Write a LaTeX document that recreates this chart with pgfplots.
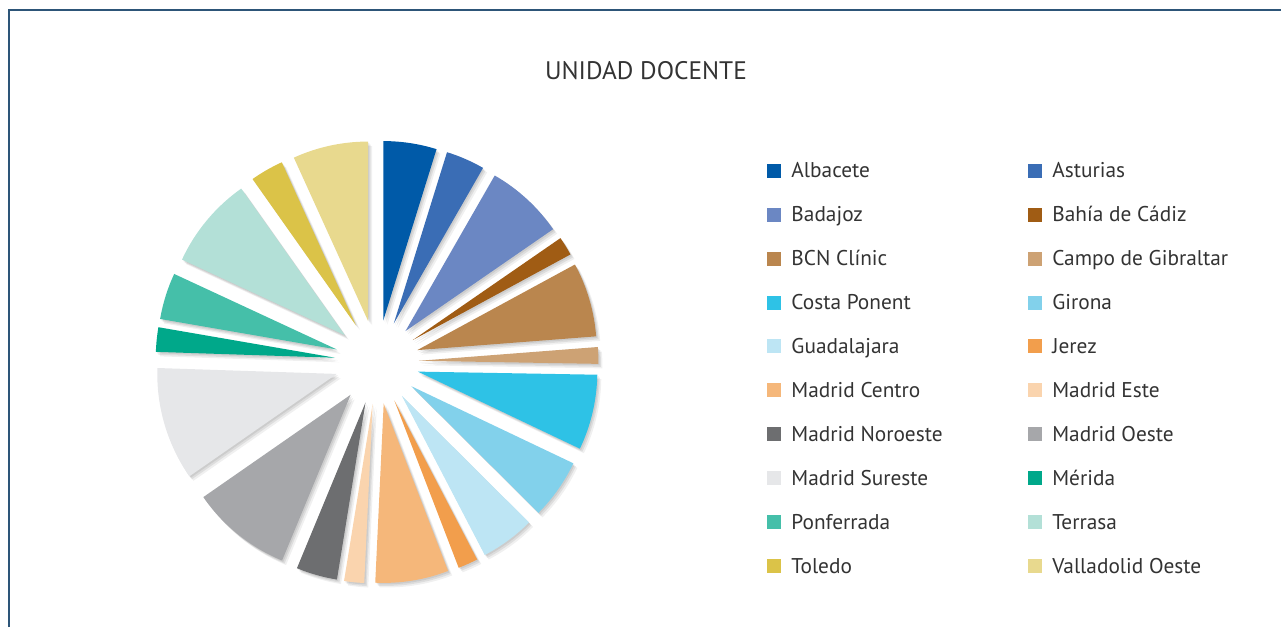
\documentclass[border=0pt]{standalone}
\usepackage{pgfplots}
\pgfplotsset{compat=1.18}
\usepackage{pgfplotstable}
\usepackage{fontspec}
\setmainfont{PT Sans}

\definecolor{frame}{HTML}{2D5578}
\definecolor{txt}{HTML}{333333}
\definecolor{c1}{HTML}{005AA8}
\definecolor{c2}{HTML}{3A6DB5}
\definecolor{c3}{HTML}{6B87C3}
\definecolor{c4}{HTML}{A05C14}
\definecolor{c5}{HTML}{BA864E}
\definecolor{c6}{HTML}{CDA274}
\definecolor{c7}{HTML}{2EC2E6}
\definecolor{c8}{HTML}{82D1EB}
\definecolor{c9}{HTML}{BDE5F4}
\definecolor{c10}{HTML}{F29E4C}
\definecolor{c11}{HTML}{F5B77A}
\definecolor{c12}{HTML}{FAD4AE}
\definecolor{c13}{HTML}{6D6E70}
\definecolor{c14}{HTML}{A6A7AA}
\definecolor{c15}{HTML}{E6E7E9}
\definecolor{c16}{HTML}{00A88A}
\definecolor{c17}{HTML}{45BFA9}
\definecolor{c18}{HTML}{B3E0D7}
\definecolor{c19}{HTML}{DBC348}
\definecolor{c20}{HTML}{E8D98E}

% share of each unidad docente (%)
\pgfplotstableread[col sep=comma]{
name,value,color
Albacete,4.8,c1
Asturias,3.5,c2
Badajoz,7.1,c3
Bahía de Cádiz,1.7,c4
BCN Clínic,6.7,c5
Campo de Gibraltar,1.5,c6
Costa Ponent,6.8,c7
Girona,5.4,c8
Guadalajara,4.9,c9
Jerez,1.8,c10
Madrid Centro,6.6,c11
Madrid Este,1.8,c12
Madrid Noroeste,3.7,c13
Madrid Oeste,9.1,c14
Madrid Sureste,10.2,c15
Mérida,2.2,c16
Ponferrada,4.2,c17
Terrasa,8.3,c18
Toledo,3.0,c19
Valladolid Oeste,6.8,c20
}\unidades

\def\px{0.3985pt}
\pgfplotsset{sq/.style={legend image code/.code={\fill[##1,draw=none] (0pt,-2.79pt) rectangle (5.58pt,2.79pt);}}}

\begin{document}
\begin{tikzpicture}[x=\px,y=-\px]
\useasboundingbox (0,0) rectangle (1281,627);
\draw[frame,line width=0.8pt] (9,627) -- (9,9.5) -- (1281,9.5);
\node[font=\fontsize{10.1}{12}\selectfont,text=txt] at (646,71) {UNIDAD DOCENTE};

\pgfplotstablegetrowsof{\unidades}
\pgfmathtruncatemacro\lastrow{\pgfplotsretval-1}
\def\total{0}
\pgfplotsforeachungrouped \i in {0,...,\lastrow}{%
  \pgfplotstablegetelem{\i}{value}\of\unidades
  \pgfmathsetmacro\total{\total+\pgfplotsretval}}

\begin{axis}[
  at={(150.23pt,-144.26pt)}, anchor=center,
  x=\px, y=\px,
  xmin=-230, xmax=230, ymin=-230, ymax=230,
  hide axis, clip=false,
  legend columns=2,
  legend cell align=left,
  legend style={at={(1.3478,0.9652)}, anchor=north west, draw=none, fill=none,
    inner sep=0pt, row sep=0pt, column sep=0pt,
    font=\fontsize{8.5}{10}\selectfont, text=txt,
    nodes={inner sep=0pt, minimum height=17.53pt, text height=5.9pt, text depth=0pt},
    /tikz/every odd column/.style={column sep=3.98pt}},
]
\def\angA{90}
\pgfplotsforeachungrouped \i in {0,...,\lastrow}{%
  \pgfplotstablegetelem{\i}{value}\of\unidades \let\val\pgfplotsretval
  \pgfplotstablegetelem{\i}{color}\of\unidades \let\col\pgfplotsretval
  \pgfplotstablegetelem{\i}{name}\of\unidades \let\nm\pgfplotsretval
  \pgfmathsetmacro\angB{\angA-360*\val/\total}
  \pgfmathsetmacro\mid{(\angA+\angB)/2}
  \pgfmathsetmacro\tx{42*cos(\mid)}
  \pgfmathsetmacro\ty{42*sin(\mid)}
  \edef\cmd{%
    \noexpand\fill[black,opacity=0.08,xshift=0.5pt,yshift=-0.6pt] (axis cs:\tx,\ty) -- ++(\angA:71.5pt) arc[start angle=\angA,end angle=\angB,radius=71.5pt] -- cycle;
    \noexpand\fill[black,opacity=0.08,xshift=1.0pt,yshift=-1.2pt] (axis cs:\tx,\ty) -- ++(\angA:71.5pt) arc[start angle=\angA,end angle=\angB,radius=71.5pt] -- cycle;
    \noexpand\fill[black,opacity=0.06,xshift=1.6pt,yshift=-1.8pt] (axis cs:\tx,\ty) -- ++(\angA:71.5pt) arc[start angle=\angA,end angle=\angB,radius=71.5pt] -- cycle;
    \noexpand\fill[\col] (axis cs:\tx,\ty) -- ++(\angA:71.5pt) arc[start angle=\angA,end angle=\angB,radius=71.5pt] -- cycle;
    \noexpand\addlegendimage{sq,fill=\col}
    \noexpand\addlegendentry{\noexpand\makebox[94.4pt][l]{\nm}}
  }\cmd
  \let\angA\angB
}
\end{axis}
\end{tikzpicture}
\end{document}
